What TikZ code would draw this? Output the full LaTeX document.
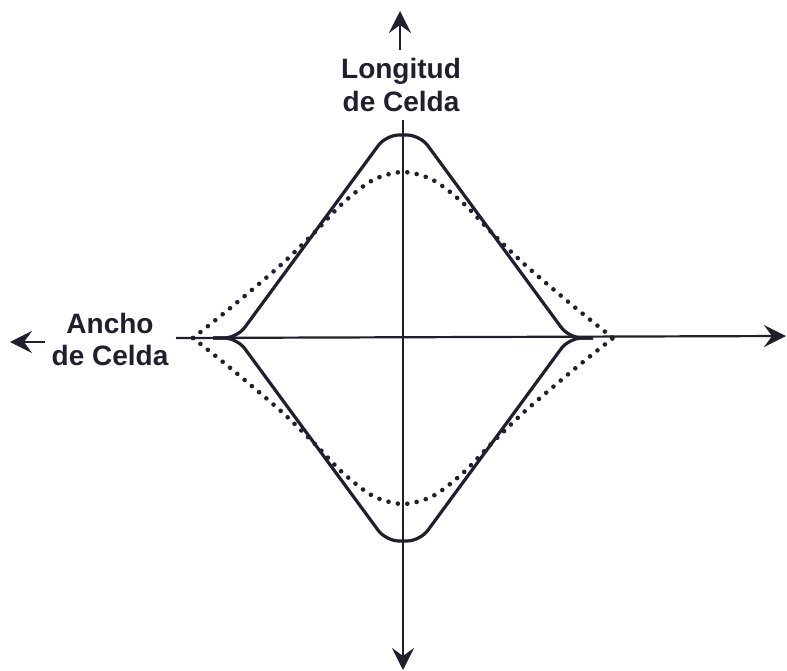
\documentclass[tikz,border=0pt]{standalone}
\usepackage{fontspec}
\setmainfont{Liberation Sans}
\usetikzlibrary{arrows.meta}
\definecolor{inkc}{rgb}{0.13,0.12,0.18}
\begin{document}
\begin{tikzpicture}[x=1pt,y=-1pt,
  axis/.style={draw=inkc, line width=2.2pt},
  arr/.style={-{Stealth[length=22pt,width=22pt,inset=8pt]}},
  lbl/.style={font=\fontsize{28}{32}\selectfont\bfseries, text=inkc, inner sep=0pt, anchor=base},
  solidc/.style={draw=inkc, line width=3.2pt, rounded corners=13pt},
  dotc/.style={draw=inkc, line width=4.6pt, line cap=round, dash pattern=on 0pt off 9.5pt}]
\useasboundingbox (0,0) rectangle (787,671);
\fill[white] (0,0) rectangle (787,671);

% labels
\node[lbl] (long1) at (401,79) {Longitud};
\node[lbl] (long2) at (401,112) {de Celda};
\node[lbl] (anch1) at (110,333) {Ancho};
\node[lbl] (anch2) at (110,365) {de Celda};

% axes
\coordinate (vts) at (400,50);
\coordinate (vt) at (400,11);
\coordinate (vb0) at (403,120);
\coordinate (vb) at (403,670);
\coordinate (h0) at (176,338);
\coordinate (h1) at (786,336);
\coordinate (l0) at (45,342);
\coordinate (l1) at (10,342);
\draw[axis,arr] (vts) -- (vt);
\draw[axis,arr] (vb0) -- (vb);
\draw[axis,arr] (h0) -- (h1);
\draw[axis,arr] (l0) -- (l1);

% curves
\begin{scope}[shift={(403,338)}]
  \draw[solidc] (-190,0) -- (-166,0) -- (-17,-203) -- (17,-203) -- (166,0) -- (190,0);
  \draw[solidc] (-190,0) -- (-166,0) -- (-17,203) -- (17,203) -- (166,0) -- (190,0);
  \draw[dotc] plot[smooth] coordinates {(-210,0) (-180,-24) (-150,-49) (-120,-75) (-90,-104) (-60,-135) (-30,-158) (0,-166) (30,-158) (60,-135) (90,-104) (120,-75) (150,-49) (180,-24) (210,0)};
  \draw[dotc] plot[smooth] coordinates {(-210,0) (-180,24) (-150,49) (-120,75) (-90,104) (-60,135) (-30,158) (0,166) (30,158) (60,135) (90,104) (120,75) (150,49) (180,24) (210,0)};
\end{scope}
\end{tikzpicture}
\end{document}
